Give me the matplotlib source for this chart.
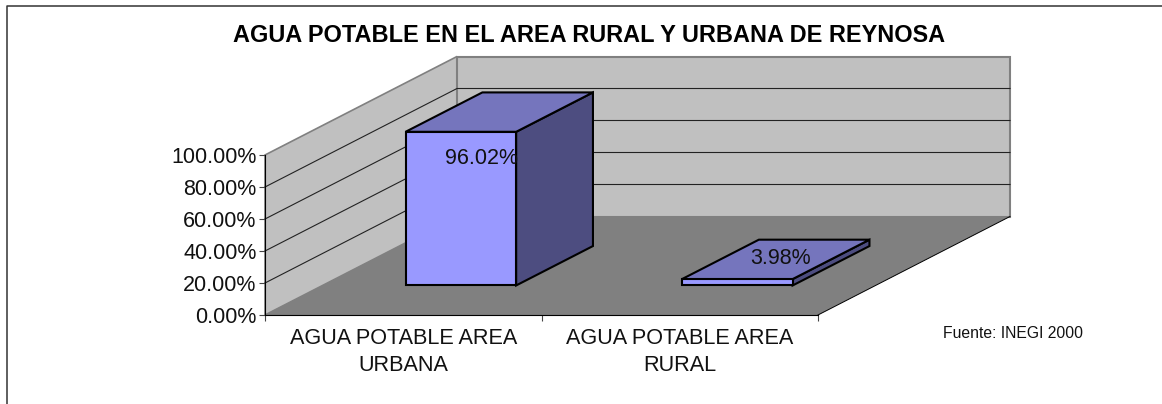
import numpy as np
import matplotlib
matplotlib.use("Agg")
import matplotlib.pyplot as plt
from matplotlib.lines import Line2D
from matplotlib.patches import Polygon

plt.rcParams['font.family'] = ['Liberation Sans', 'DejaVu Sans']

title = "AGUA POTABLE EN EL AREA RURAL Y URBANA DE REYNOSA"
source = "Fuente: INEGI 2000"
categories = ["AGUA POTABLE AREA\nURBANA", "AGUA POTABLE AREA\nRURAL"]
values = [96.02, 3.98]
y_ticks = [0, 20, 40, 60, 80, 100]

W, H = 1162, 404

# 3d look: one unit of depth moves this far in data units
depth_x = 192 / 276.5
depth_y = 98.5 / 1.6

WALL = '#c0c0c0'
FLOOR = '#808080'
BAR_FRONT = '#9999ff'
BAR_TOP = '#7575bd'
BAR_SIDE = '#4d4d80'


def proj(x, v, d):
    return (x + d * depth_x, v + d * depth_y)


def face(ax, pts, color, edge='none', lw=0, z=1):
    ax.add_patch(Polygon([proj(*p) for p in pts], closed=True, facecolor=color,
                         edgecolor=edge, linewidth=lw, clip_on=False, zorder=z,
                         joinstyle='miter'))


fig = plt.figure(figsize=(W / 100, H / 100), dpi=100)
ax = fig.add_axes([265 / W, 1 - 315 / H, (818 - 265) / W, 160 / H])
ax.patch.set_visible(False)
ax.set_xlim(0, 2)
ax.set_ylim(0, 100)

# walls and floor
face(ax, [(0, 0, 0), (0, 100, 0), (0, 100, 1), (0, 0, 1)], WALL, '#808080', 1.2)
face(ax, [(0, 0, 1), (0, 100, 1), (2, 100, 1), (2, 0, 1)], WALL, '#808080', 1.5)
for v in y_ticks[1:-1]:
    ax.plot(*zip(proj(0, v, 0), proj(0, v, 1), proj(2, v, 1)), color='#222222',
            lw=0.8, clip_on=False, zorder=1.2)
face(ax, [(0, 0, 0), (2, 0, 0), (2, 0, 1), (0, 0, 1)], FLOOR, z=1.4)
ax.plot(*zip(proj(2, 0, 0), proj(2, 0, 1)), color='black', lw=0.7, clip_on=False, zorder=1.5)

# bars
d0, d1 = 0.3, 0.7
for i, val in enumerate(values):
    x0, x1 = i + 0.3, i + 0.7
    face(ax, [(x1, 0, d0), (x1, val, d0), (x1, val, d1), (x1, 0, d1)], BAR_SIDE, 'black', 1.5, 2)
    face(ax, [(x0, val, d0), (x1, val, d0), (x1, val, d1), (x0, val, d1)], BAR_TOP, 'black', 1.5, 2)
    face(ax, [(x0, 0, d0), (x1, 0, d0), (x1, val, d0), (x0, val, d0)], BAR_FRONT, 'black', 1.5, 2.1)

# data labels
label_offsets = [(-18, -46), (5, 1)]
for i, val in enumerate(values):
    ax.annotate("%.2f%%" % val, xy=proj(i + 0.5, val, 0.5), xytext=label_offsets[i],
                textcoords='offset pixels', ha='center', va='center', fontsize=15.5,
                color='#111111', zorder=3, annotation_clip=False)

for s in ['top', 'right']:
    ax.spines[s].set_visible(False)
for s in ['left', 'bottom']:
    ax.spines[s].set_linewidth(0.8)
    ax.spines[s].set_zorder(1.6)

ax.set_yticks(y_ticks)
ax.set_yticklabels(["%.2f%%" % v for v in y_ticks], fontsize=15.5)
ax.tick_params(axis='y', length=4, width=0.8, pad=2, color='#444444', labelcolor='#111111')
ax.set_xticks([0, 1, 2])
ax.set_xticklabels([])
ax.tick_params(axis='x', which='major', length=4, width=0.8, color='#444444')
ax.set_xticks([0.5, 1.5], categories, minor=True)
ax.tick_params(axis='x', which='minor', length=0, pad=9, labelsize=15.6, labelcolor='#111111')
for lab in ax.get_xticklabels(minor=True):
    lab.set_linespacing(1.4)

fig.text(589.5 / W, 1 - 36 / H, title, ha='center', va='center', fontsize=16.9,
         fontweight='bold', color='black')
fig.text(1013 / W, 1 - 333 / H, source, ha='center', va='center', fontsize=11.3, color='#111111')

# chart frame, bottom and right sides are cut off in the source image
fig.add_artist(Line2D([7 / W, 7 / W, 1], [0, 1 - 6 / H, 1 - 6 / H], color='#333333', lw=1.1))

fig.savefig('out.png', dpi=100)
